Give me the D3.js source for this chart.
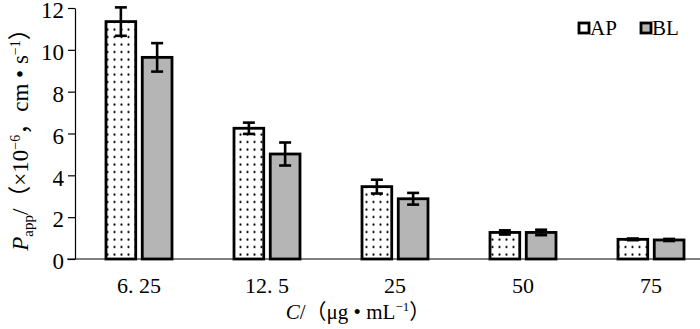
<!DOCTYPE html>
<meta charset="utf-8">
<script src="https://d3js.org/d3.v7.min.js"></script>
<style>
  body { margin: 0; background: #fff; }
  text { font-family: "Liberation Serif", "Noto Sans CJK SC", serif; fill: #000; }
</style>
<div id="chart"></div>
<script>
// concentrations (x categories)
var concs = ["6. 25", "12. 5", "25", "50", "75"]
var seriesNames = ["AP", "BL"]
// Papp values (x10^-6 cm/s) and error bars
var apValues = [11.35, 6.25, 3.46, 1.27, 0.94]
var apErr = [0.68, 0.27, 0.33, 0.10, 0.04]
var blValues = [9.64, 5.02, 2.88, 1.27, 0.91]
var blErr = [0.68, 0.55, 0.28, 0.13, 0.05]
var yTicks = [0, 2, 4, 6, 8, 10, 12]

const W = 700, H = 329
const margin = {top: 8, right: 0, bottom: 70, left: 75}
const width = 640,
      height = H - margin.top - margin.bottom

const svg = d3.select("#chart").append("svg")
  .attr("width", W).attr("height", H)

// dot fill for AP bars
const defs = svg.append("defs")
const pat = defs.append("pattern")
  .attr("id", "dots").attr("patternUnits", "userSpaceOnUse")
  .attr("width", 7).attr("height", 7.5)
  .attr("x", 1).attr("y", 3)
pat.append("rect").attr("width", 7).attr("height", 7.5).attr("fill", "#fff")
pat.append("circle").attr("cx", 3.5).attr("cy", 3.5).attr("r", 1.1).attr("fill", "#000")

const fills = {AP: "url(#dots)", BL: "#b5b5b5"}

const g = svg.append("g").attr("transform", `translate(${margin.left},${margin.top})`)

const x = d3.scaleBand().domain(concs).range([0, width])
const xs = d3.scaleBand().domain(seriesNames).range([-33, 33]).paddingInner(0.18)
const y = d3.scaleLinear().domain([0, 12]).range([height, 0])

// axes
const yAxis = g.append("g")
  .call(d3.axisLeft(y).tickValues(yTicks).tickSize(7).tickSizeOuter(0))
yAxis.select(".domain").attr("stroke", "#000").attr("stroke-width", 1.2)
yAxis.selectAll(".tick line").attr("stroke", "#000").attr("stroke-width", 1.2)
yAxis.selectAll("text").attr("font-size", 23).attr("x", -11).attr("dy", "0.42em")
  .style("font-family", "'Liberation Serif', serif")

g.append("line")
  .attr("x1", -8).attr("x2", width)
  .attr("y1", y(0)).attr("y2", y(0))
  .attr("stroke", "#000").attr("stroke-width", 1.2)

g.selectAll(".xlab").data(concs).join("text")
  .attr("class", "xlab")
  .attr("x", d => x(d) + x.bandwidth() / 2)
  .attr("y", height + 34)
  .attr("text-anchor", "middle")
  .attr("font-size", 22)
  .text(d => d)

// bars
const rows = []
concs.forEach((c, i) => {
  rows.push({c: c, s: "AP", v: apValues[i], e: apErr[i]})
  rows.push({c: c, s: "BL", v: blValues[i], e: blErr[i]})
})

const cx = d => x(d.c) + x.bandwidth() / 2 + xs(d.s)

g.selectAll(".bar").data(rows).join("rect")
  .attr("class", "bar")
  .attr("x", d => cx(d))
  .attr("y", d => y(d.v))
  .attr("width", xs.bandwidth())
  .attr("height", d => y(0) - y(d.v))
  .attr("fill", d => fills[d.s])
  .attr("stroke", "#000")
  .attr("stroke-width", 2.8)

// error bars
const eb = g.selectAll(".err").data(rows).join("g").attr("class", "err")
  .attr("stroke", "#000").attr("stroke-width", 2.6)
eb.append("line")
  .attr("x1", d => cx(d) + xs.bandwidth() / 2).attr("x2", d => cx(d) + xs.bandwidth() / 2)
  .attr("y1", d => y(d.v - d.e)).attr("y2", d => y(d.v + d.e))
eb.append("line")
  .attr("x1", d => cx(d) + xs.bandwidth() / 2 - 6).attr("x2", d => cx(d) + xs.bandwidth() / 2 + 6)
  .attr("y1", d => y(d.v + d.e)).attr("y2", d => y(d.v + d.e))
eb.append("line")
  .attr("x1", d => cx(d) + xs.bandwidth() / 2 - 6).attr("x2", d => cx(d) + xs.bandwidth() / 2 + 6)
  .attr("y1", d => y(d.v - d.e)).attr("y2", d => y(d.v - d.e))

// legend
const legX = [579, 641]
const leg = svg.selectAll(".leg").data(seriesNames).join("g")
  .attr("class", "leg")
  .attr("transform", (d, i) => `translate(${legX[i]},23)`)
leg.append("rect")
  .attr("x", 0).attr("y", 0).attr("width", 10).attr("height", 10)
  .attr("fill", d => d == "AP" ? "#fff" : "#b5b5b5")
  .attr("stroke", "#000").attr("stroke-width", 2.8)
leg.append("text")
  .attr("x", 11).attr("y", 12)
  .attr("font-size", 21)
  .text(d => d)

// axis titles
const yl = svg.append("text")
  .attr("transform", "translate(28,134) rotate(-90)")
  .attr("text-anchor", "middle")
  .attr("font-size", 23)
yl.append("tspan").attr("font-style", "italic").text("P")
yl.append("tspan").attr("font-size", 15).attr("dy", 5).text("app")
yl.append("tspan").attr("dy", -5).text("/（×10")
yl.append("tspan").attr("font-size", 14).attr("dy", -8).text("−6")
yl.append("tspan").attr("dy", 8).text("，cm • s")
yl.append("tspan").attr("font-size", 14).attr("dy", -8).text("−1")
yl.append("tspan").attr("dy", 8).text("）")

const xl = svg.append("text")
  .attr("x", 358).attr("y", 319)
  .attr("text-anchor", "middle")
  .attr("font-size", 21)
xl.append("tspan").attr("font-style", "italic").text("C")
xl.append("tspan").text("/（μg • mL")
xl.append("tspan").attr("font-size", 13).attr("dy", -8).text("−1")
xl.append("tspan").attr("dy", 8).text("）")
</script>
